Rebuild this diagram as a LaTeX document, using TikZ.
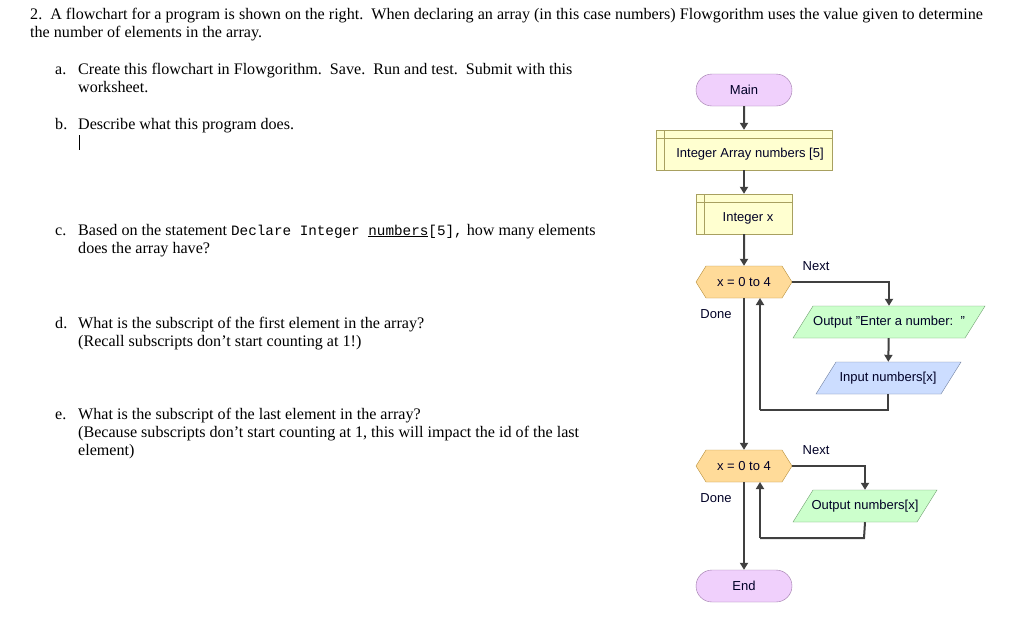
\documentclass[tikz,border=0pt]{standalone}
\usepackage{fontspec}
\setmainfont{Liberation Serif}
\setsansfont{Liberation Sans}
\setmonofont{Liberation Mono}
\usetikzlibrary{shapes.geometric,shapes.misc,shapes.symbols,arrows.meta}
\definecolor{termF}{HTML}{F0D0FC}\definecolor{termD}{HTML}{9C78A8}
\definecolor{declF}{HTML}{FFFFD0}\definecolor{declD}{HTML}{A8A060}
\definecolor{hexF}{HTML}{FFDB99}\definecolor{hexD}{HTML}{B8903C}
\definecolor{outF}{HTML}{CCFFCC}\definecolor{outD}{HTML}{70A070}
\definecolor{inF}{HTML}{CCDDFF}\definecolor{inD}{HTML}{7080A0}
\definecolor{lineC}{HTML}{404040}
\begin{document}
\begin{tikzpicture}[x=1pt,y=-1pt,
  txt/.style={anchor=base west,inner sep=0pt,font=\fontsize{16.1}{19}\selectfont},
  fc/.style={font=\sffamily\fontsize{13}{15}\selectfont,text=black!85!blue},
  term/.style={fc,draw=termD,fill=termF,rounded rectangle,minimum width=96pt,minimum height=32pt,inner sep=0pt},
  decl/.style={fc,draw=declD,fill=declF,minimum height=40pt,inner sep=0pt},
  hexa/.style={fc,draw=hexD,fill=hexF,signal,signal to=west and east,signal pointer angle=116,minimum width=96pt,minimum height=32pt,inner sep=0pt},
  io/.style={fc,inner sep=0pt,minimum height=32pt},
  lbl/.style={fc,anchor=center},
  arr/.style={draw=lineC,line width=2pt,-{Triangle[length=7pt,width=8pt]}},
  ln/.style={draw=lineC,line width=2pt}]
\useasboundingbox (0,0) rectangle (1027,630);
\fill[white] (0,0) rectangle (1027,630);
% text
\node[txt] (t1) at (30,19) {2.\ \ A flowchart for a program is shown on the right.\ \ When declaring an array (in this case numbers) Flowgorithm uses the value given to determine};
\node[txt] (t2) at (30,37) {the number of elements in the array.};
\node[txt] (a1) at (55,74) {a.};
\node[txt] (a2) at (78,74) {Create this flowchart in Flowgorithm.\ \ Save.\ \ Run and test.\ \ Submit with this};
\node[txt] (a3) at (78,92) {worksheet.};
\node[txt] (b1) at (55,129) {b.};
\node[txt] (b2) at (78,129) {Describe what this program does.};
\draw[black,line width=0.8pt] (79,135) -- (79,150);
\node[txt] (c1) at (55,235) {c.};
\node[txt] (c2) at (78,235) {Based on the statement {\ttfamily\fontsize{14.3}{16}\selectfont Declare Integer \underline{numbers}[5],} how many elements};
\node[txt] (c3) at (78,253) {does the array have?};
\node[txt] (d1) at (55,328) {d.};
\node[txt] (d2) at (78,328) {What is the subscript of the first element in the array?};
\node[txt] (d3) at (78,346) {(Recall subscripts don’t start counting at 1!)};
\node[txt] (e1) at (55,419) {e.};
\node[txt] (e2) at (78,419) {What is the subscript of the last element in the array?};
\node[txt] (e3) at (78,437) {(Because subscripts don’t start counting at 1, this will impact the id of the last};
\node[txt] (e4) at (78,455) {element)};
% flowchart
\node[term] (main) at (744,90) {Main};
\node[decl,minimum width=176pt,label={[fc,xshift=6pt,yshift=-4pt]center:Integer Array numbers [5]}] (arr) at (744,150) {};
\draw[declD] (664,130) -- (664,170) (656,138) -- (832,138);
\node[decl,minimum width=96pt,label={[fc,xshift=4pt,yshift=-4pt]center:Integer x}] (ix) at (744,214) {};
\draw[declD] (704,194) -- (704,234) (696,202) -- (792,202);
\node[hexa] (h1) at (744,282) {x = 0 to 4};
\filldraw[draw=outD,fill=outF] (793,338) -- (813,306) -- (985,306) -- (965,338) -- cycle;
\node[io,minimum width=172pt] (o1) at (889,322) {Output "Enter a number:\ \ "};
\filldraw[draw=inD,fill=inF] (816,394) -- (836,362) -- (961,362) -- (941,394) -- cycle;
\node[io,minimum width=125pt] (in) at (888,378) {Input numbers[x]};
\node[hexa] (h2) at (744,466) {x = 0 to 4};
\filldraw[draw=outD,fill=outF] (793,522) -- (813,490) -- (937,490) -- (917,522) -- cycle;
\node[io,minimum width=124pt] (o2) at (865,506) {Output numbers[x]};
\node[term] (end) at (744,586) {End};
\node[lbl] (n1) at (816,266) {Next};
\node[lbl] (d1l) at (716,314) {Done};
\node[lbl] (n2) at (816,450) {Next};
\node[lbl] (d2l) at (716,498) {Done};
\coordinate (l1a) at (888,410);
\coordinate (l1b) at (760,410);
\coordinate (l2a) at (864,538);
\coordinate (l2b) at (760,538);
\draw[arr] (main) -- (arr);
\draw[arr] (arr) -- (ix);
\draw[arr] (ix) -- (h1);
\draw[arr] (h1.east) -| (o1.north);
\draw[arr] (o1) -- (in);
\draw[ln] (in.south) -- (l1a) -- (l1b);
\draw[arr] (l1b) -- (760,298);
\draw[arr] (h1.south) -- (h2.north);
\draw[arr] (h2.east) -| (o2.north);
\draw[ln] (o2.south) -- (l2a) -- (l2b);
\draw[arr] (l2b) -- (760,482);
\draw[arr] (h2.south) -- (end.north);
\end{tikzpicture}
\end{document}
